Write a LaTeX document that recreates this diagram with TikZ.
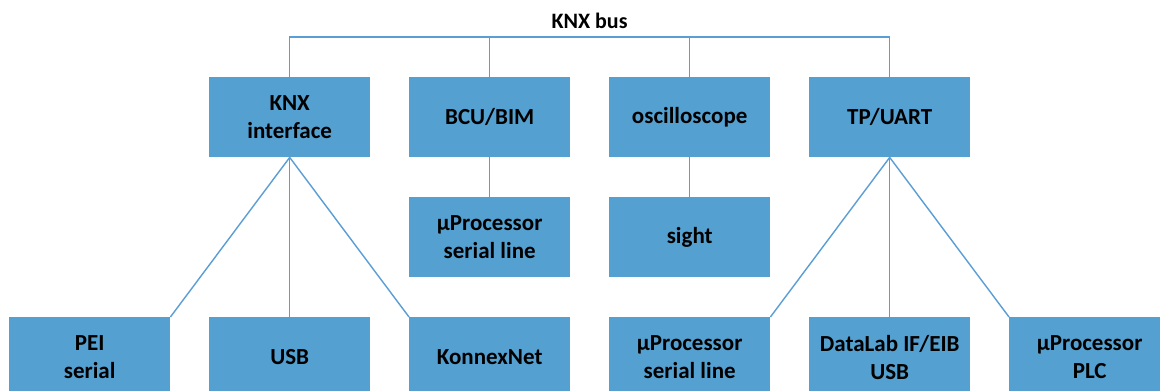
\documentclass[tikz,border=0pt]{standalone}
\usepackage{fontspec}
\setmainfont{Carlito}
\definecolor{boxblue}{RGB}{84,160,208}
\definecolor{wireblue}{RGB}{91,157,213}
\begin{document}
\begin{tikzpicture}[x=1pt,y=-1pt,
  unit/.style={rectangle, fill=boxblue, minimum width=161pt, minimum height=80pt,
    inner sep=0pt, anchor=north west, align=center,
    font=\fontsize{23}{28}\selectfont\bfseries},
  wire/.style={draw=wireblue, line width=1.4pt}]
\useasboundingbox (0,0) rectangle (1160,391);
\clip (0,0) rectangle (1160,391);
\fill[white] (0,0) rectangle (1160,391);

% top row of devices on the bus
\node[unit] (knx)  at (209,77) {KNX\\interface};
\node[unit] (bcu)  at (409,77) {BCU/BIM};
\node[unit] (osc)  at (609,77) {oscilloscope};
\node[unit] (tp)   at (809,77) {TP/UART};

% second row
\node[unit] (mcu1) at (409,197) {µProcessor\\serial line};
\node[unit] (sight) at (609,197) {sight};

% bottom row
\node[unit] (pei)  at (9,317)    {PEI\\serial};
\node[unit] (usb)  at (209,317)  {USB};
\node[unit] (konx) at (409,317)  {KonnexNet};
\node[unit] (mcu2) at (609,317)  {µProcessor\\serial line};
\node[unit] (dlab) at (809,317)  {DataLab IF/EIB\\USB};
\node[unit] (plc)  at (1009,317) {µProcessor\\PLC};

% the bus
\node[font=\fontsize{22}{26}\selectfont\bfseries] (bus) at (589.5,21) {KNX bus};
\coordinate (busL) at (knx.north |- 0,37);
\coordinate (busR) at (tp.north |- 0,37);
\draw[wire] (knx.north) -- (busL) -- (busR) -- (tp.north);
\draw[wire] (bcu.north) -- (bcu.north |- busL);
\draw[wire] (osc.north) -- (osc.north |- busL);

% branches
\draw[wire] (bcu.south) -- (mcu1.north);
\draw[wire] (osc.south) -- (sight.north);
\draw[wire] (knx.south) -- (pei.north east);
\draw[wire] (knx.south) -- (usb.north);
\draw[wire] (knx.south) -- (konx.north west);
\draw[wire] (tp.south) -- (mcu2.north east);
\draw[wire] (tp.south) -- (dlab.north);
\draw[wire] (tp.south) -- (plc.north west);
\end{tikzpicture}
\end{document}
